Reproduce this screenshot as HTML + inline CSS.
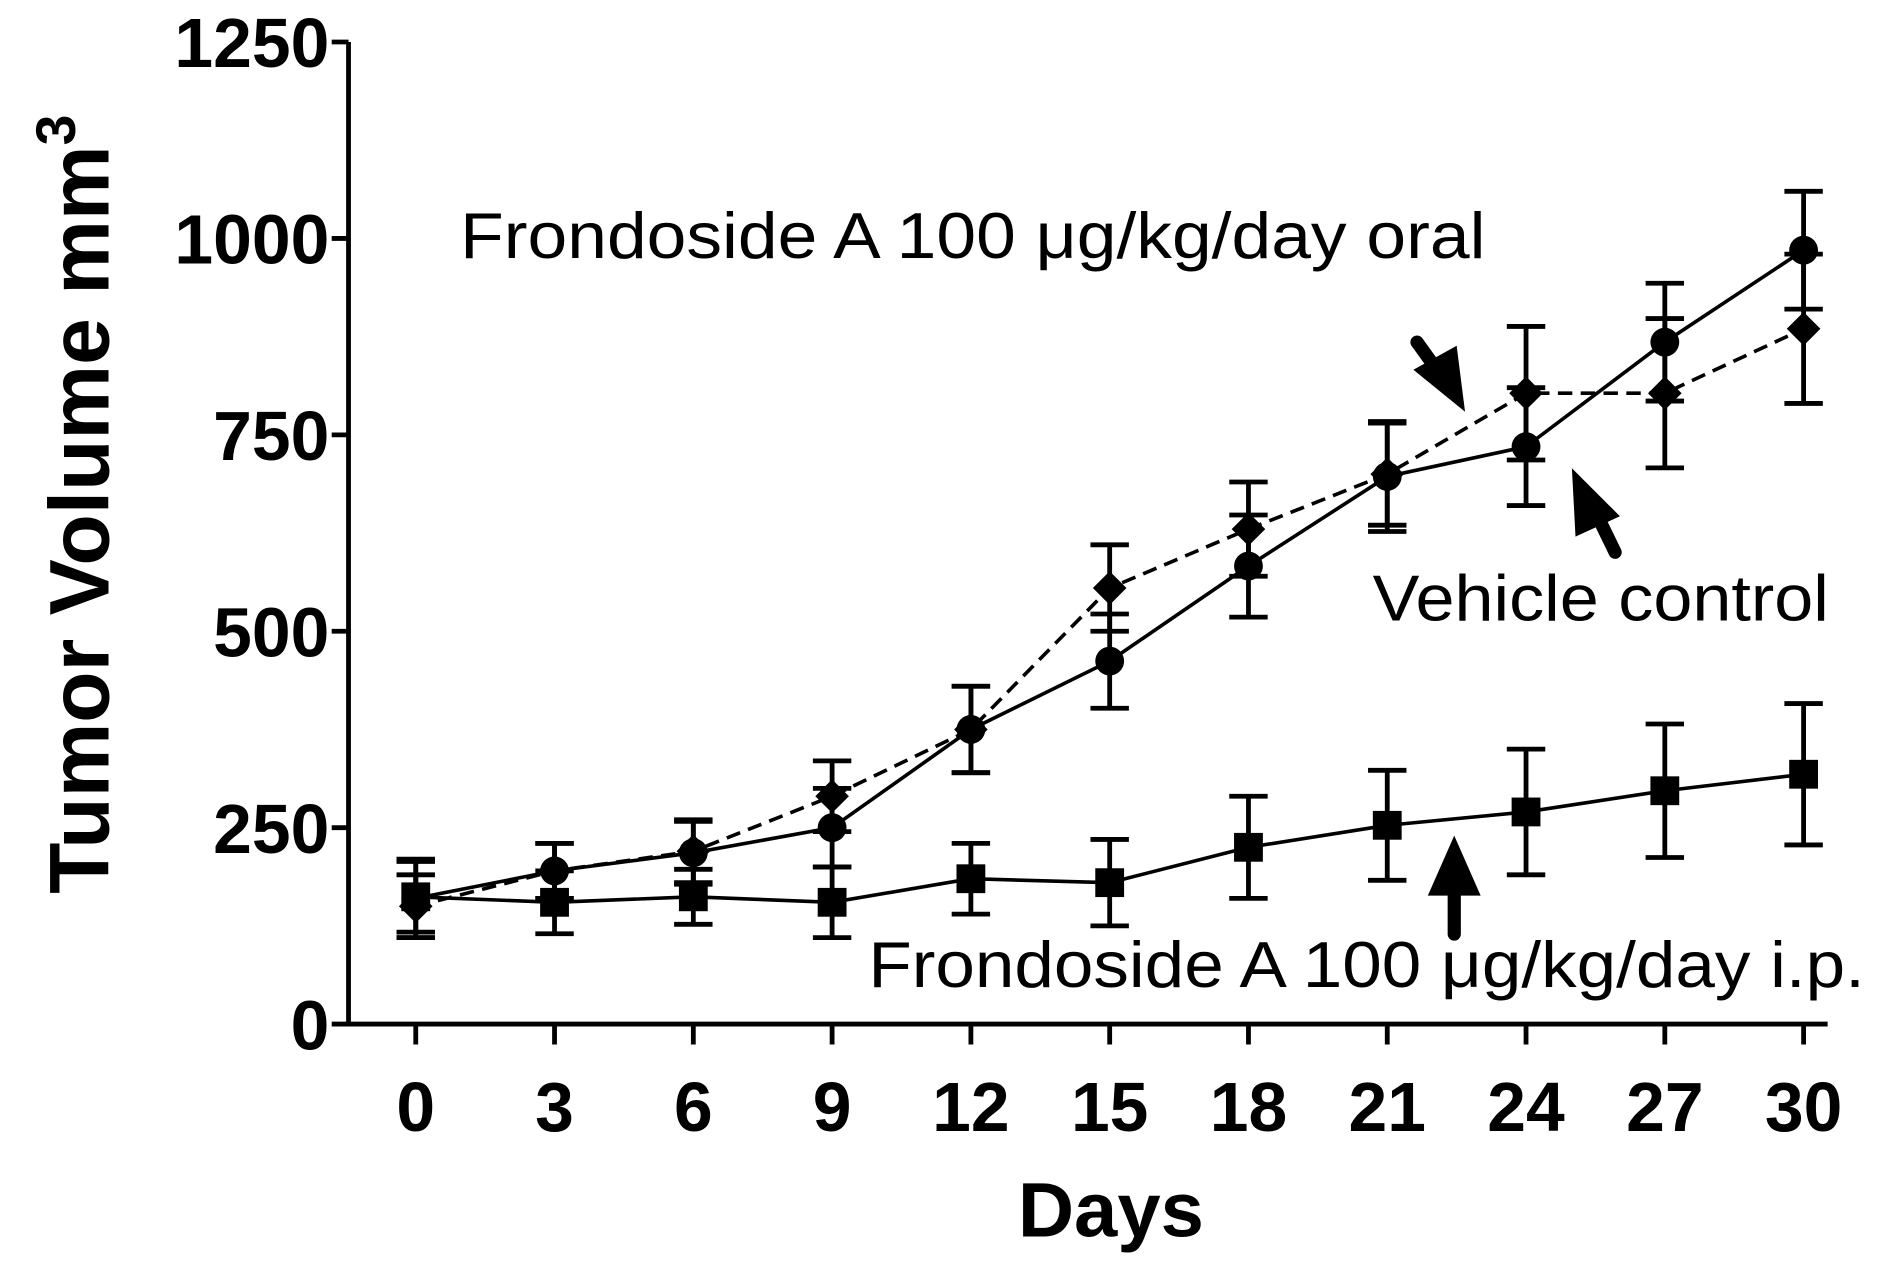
<!DOCTYPE html>
<html><head><meta charset="utf-8"><style>
html,body{margin:0;padding:0;background:#fff;}
svg{display:block;}
text{font-family:"Liberation Sans",Arial,sans-serif;fill:#000;}
</style></head><body>
<svg id="chart" width="1882" height="1275" viewBox="0 0 1567 1062" xmlns="http://www.w3.org/2000/svg">
<g id="axes"></g>
<g id="series"></g>
<g>
<text x="383" y="215" font-size="54" textLength="854" lengthAdjust="spacingAndGlyphs">Frondoside A 100 μg/kg/day oral</text>
<text x="1143" y="517" font-size="54" textLength="380" lengthAdjust="spacingAndGlyphs">Vehicle control</text>
<text x="723" y="822" font-size="54" textLength="830" lengthAdjust="spacingAndGlyphs">Frondoside A 100 μg/kg/day i.p.</text>
<g><line x1="1180" y1="285" x2="1198" y2="310" stroke="#000" stroke-width="11" stroke-linecap="round"/><polygon points="1220,343 1177,308 1213,288" fill="#000"/></g>
<g><line x1="1345" y1="460" x2="1328" y2="425" stroke="#000" stroke-width="11" stroke-linecap="round"/><polygon points="1309,390 1349,430 1312,447" fill="#000"/></g>
<g><line x1="1211" y1="778" x2="1211" y2="740" stroke="#000" stroke-width="11" stroke-linecap="round"/><polygon points="1211,696 1233,746 1189,746" fill="#000"/></g>
<text x="925" y="1030" font-size="64" font-weight="bold" text-anchor="middle" textLength="155" lengthAdjust="spacingAndGlyphs">Days</text>
<text transform="translate(90,420) rotate(-90)" font-size="70" font-weight="bold" text-anchor="middle">Tumor Volume mm<tspan dy="-28" font-size="46">3</tspan></text>
</g>
</svg>
<script>
const days = [0,3,6,9,12,15,18,21,24,27,30];
const yTicks = [0,250,500,750,1000,1250];
const vehicleMean = [160,195,218,250,375,462,583,697,735,868,985];
const vehicleErr = [50,35,40,50,55,60,65,70,75,75,75];
const oralMean = [150,195,220,290,375,555,630,700,803,803,885];
const oralErr = [40,35,40,45,55,55,60,65,85,95,95];
const ipMean = [162,155,162,155,185,180,225,253,270,297,318];
const ipErr = [45,40,35,45,45,55,65,70,80,85,90];

const NS="http://www.w3.org/2000/svg";
const xs = d => 346 + d*(1502-346)/30;
const ys = v => 853 - v*(853-35)/1250;
function mk(tag, attrs, parent){const e=document.createElementNS(NS,tag);for(const k in attrs)e.setAttribute(k,attrs[k]);parent.appendChild(e);return e;}
const axes=document.getElementById('axes'), ser=document.getElementById('series');
let a=mk('line',{x1:290,y1:35,x2:290,y2:855,stroke:'#000','stroke-width':4},axes);


a=mk('line',{x1:288,y1:853,x2:1522,y2:853,stroke:'#000','stroke-width':4},axes);


yTicks.forEach(v=>{
  const t=mk('line',{x1:276,y1:ys(v),x2:290,y2:ys(v),stroke:'#000','stroke-width':4},axes);
  
  
  const l=mk('text',{x:274,y:ys(v)+21,'font-size':58,'font-weight':'bold','text-anchor':'end'},axes);
  l.textContent=v;
  
  
});
days.forEach(d=>{
  const t=mk('line',{x1:xs(d),y1:853,x2:xs(d),y2:870,stroke:'#000','stroke-width':4},axes);
  
  
  const l=mk('text',{x:xs(d),y:942,'font-size':58,'font-weight':'bold','text-anchor':'middle'},axes);
  l.textContent=d;
  
  
});
function drawSeries(name, mean, err, marker, dashed){
  const g=mk('g',{},ser);
  
  
  const pts=days.map((d,i)=>xs(d)+','+ys(mean[i])).join(' ');
  const pl=mk('polyline',{points:pts,fill:'none',stroke:'#000','stroke-width':3,'stroke-dasharray':dashed?'12 7':'none'},g);
  
  
  days.forEach((d,i)=>{
    const x=xs(d), y1=ys(mean[i]+err[i]), y2=ys(mean[i]-err[i]);
    const eb=mk('path',{d:`M${x},${y1}V${y2}M${x-16},${y1}H${x+16}M${x-16},${y2}H${x+16}`,stroke:'#000','stroke-width':4,fill:'none'},g);
    
    
    const y=ys(mean[i]); let m;
    if(marker==='circle') m=mk('circle',{cx:x,cy:y,r:12,fill:'#000'},g);
    else if(marker==='square') m=mk('rect',{x:x-12,y:y-12,width:24,height:24,fill:'#000'},g);
    else m=mk('polygon',{points:`${x},${y-14} ${x+14},${y} ${x},${y+14} ${x-14},${y}`,fill:'#000'},g);
    
    
  });
}
drawSeries('ip',ipMean,ipErr,'square',false);
drawSeries('oral',oralMean,oralErr,'diamond',true);
drawSeries('vehicle',vehicleMean,vehicleErr,'circle',false);
</script>
</body></html>
